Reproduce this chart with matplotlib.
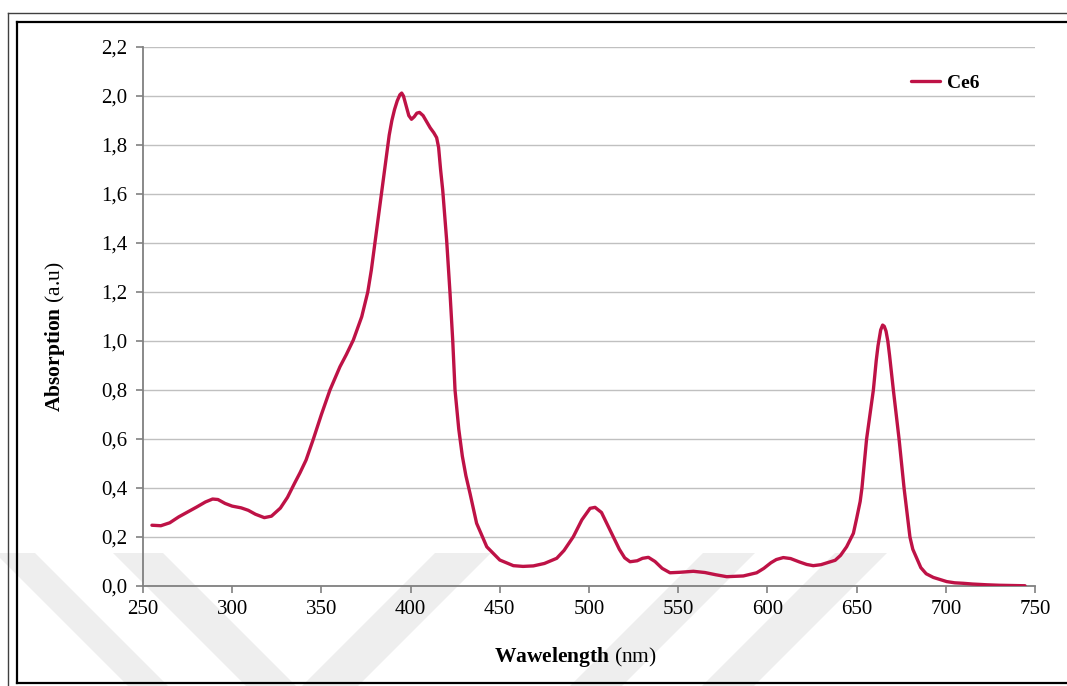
import matplotlib
matplotlib.use('AGG')
import matplotlib.pyplot as plt
from matplotlib.lines import Line2D
from matplotlib.patches import Polygon

# absorption spectrum of Ce6
wavelength = [255, 260, 265, 270, 275, 280, 285, 289, 292, 296, 300, 305, 309, 313, 318,
              322, 327, 331, 335, 338, 341.4, 345.5, 350, 354.8, 360.4, 364, 367.9, 372.6,
              376, 378, 380, 382, 384, 386, 388, 389.5, 391, 392.5, 394, 395, 396, 397.5,
              399, 400.5, 402, 403.5, 405, 407, 409, 411, 413, 414.6, 415.7, 416.8, 418,
              420.2, 422.1, 423.6, 424.9, 427, 429, 431, 433.3, 437, 442.7, 450, 457.6, 463,
              468.8, 475, 481.9, 486, 491.2, 496, 500.6, 503.4, 507, 510, 513.6, 517, 520,
              523, 527, 530, 533.3, 537, 541, 545.4, 551, 558.5, 565, 571, 577.2, 586.5,
              594, 598, 602, 605, 608.9, 613, 618, 622, 625.7, 630, 634, 638, 641, 644.4,
              648.2, 650, 652, 653, 655.6, 657.5, 659.4, 661, 662, 663.5, 664.6, 665.5,
              666.5, 667.5, 668.5, 670.6, 673.8, 676.6, 679.9, 681.5, 683.7, 686, 689, 693,
              700.5, 705, 709.8, 715, 722.8, 730, 744.4]
absorption = [0.248, 0.246, 0.258, 0.282, 0.302, 0.322, 0.343, 0.355, 0.353, 0.337, 0.326,
              0.319, 0.309, 0.293, 0.279, 0.285, 0.318, 0.362, 0.420, 0.462, 0.514, 0.600,
              0.700, 0.800, 0.895, 0.945, 1.004, 1.099, 1.200, 1.290, 1.400, 1.510, 1.620,
              1.730, 1.840, 1.900, 1.945, 1.980, 2.005, 2.012, 2.000, 1.960, 1.920, 1.905,
              1.915, 1.930, 1.933, 1.920, 1.895, 1.870, 1.850, 1.830, 1.790, 1.700, 1.616,
              1.412, 1.195, 1.004, 0.800, 0.640, 0.530, 0.450, 0.378, 0.256, 0.160, 0.106,
              0.083, 0.080, 0.082, 0.092, 0.113, 0.145, 0.201, 0.270, 0.317, 0.321, 0.300,
              0.255, 0.201, 0.150, 0.115, 0.099, 0.103, 0.113, 0.117, 0.100, 0.072, 0.054,
              0.056, 0.060, 0.055, 0.046, 0.038, 0.041, 0.054, 0.072, 0.095, 0.108, 0.116,
              0.112, 0.098, 0.088, 0.083, 0.087, 0.096, 0.105, 0.125, 0.160, 0.215, 0.275,
              0.345, 0.400, 0.600, 0.700, 0.800, 0.920, 0.980, 1.045, 1.065, 1.060, 1.040,
              1.000, 0.940, 0.800, 0.600, 0.400, 0.200, 0.150, 0.113, 0.075, 0.050, 0.035,
              0.018, 0.013, 0.011, 0.008, 0.005, 0.003, 0.001]

x_ticks = [250, 300, 350, 400, 450, 500, 550, 600, 650, 700, 750]
y_ticks = [0.0, 0.2, 0.4, 0.6, 0.8, 1.0, 1.2, 1.4, 1.6, 1.8, 2.0, 2.2]

plt.rcParams['font.family'] = ['Liberation Serif', 'DejaVu Serif']
plt.rcParams['mathtext.fontset'] = 'custom'
plt.rcParams['mathtext.rm'] = 'Liberation Serif'
plt.rcParams['mathtext.bf'] = 'Liberation Serif:bold'

W, H = 1067, 686
fig = plt.figure(figsize=(W / 100, H / 100), dpi=100)
ax = fig.add_axes([143 / W, 1 - 586 / H, 892 / W, 539 / H])
ax.patch.set_visible(False)

# faint watermark stripes at the bottom of the page
def stripe(x0, w, lean):
    top, bottom = 553, 690
    dx = (bottom - top) * lean
    pts = [(x0, top), (x0 + w, top), (x0 + w + dx, bottom), (x0 + dx, bottom)]
    return Polygon([(px / W, 1 - py / H) for px, py in pts], closed=True,
                   transform=fig.transFigure, facecolor='#eeeeee', edgecolor='none',
                   zorder=-1)

for x0, w, lean in [(-5, 40, 1), (113, 50, 1), (435, 56, -1), (703, 52, -1), (835, 52, -1)]:
    fig.add_artist(stripe(x0, w, lean))

ax.plot(wavelength, absorption, color='#BE1246', linewidth=2.4, label='Ce6',
        solid_joinstyle='round', solid_capstyle='round', zorder=3)

ax.set_xlim(250, 750)
ax.set_ylim(0, 2.2)
ax.set_xticks(x_ticks)
ax.set_yticks(y_ticks)
ax.set_xticklabels([str(t) for t in x_ticks])
ax.set_yticklabels([f'{t:.1f}'.replace('.', ',') for t in y_ticks])
ax.tick_params(axis='both', labelsize=15, colors='#808080', labelcolor='black',
               length=5, width=1.2, direction='out')
ax.tick_params(axis='x', pad=5)
ax.tick_params(axis='y', pad=6)

ax.grid(axis='y', color='#c0c0c0', linewidth=1.0)
ax.set_axisbelow(True)
for side in ['top', 'right']:
    ax.spines[side].set_visible(False)
for side in ['left', 'bottom']:
    ax.spines[side].set_color('#808080')
    ax.spines[side].set_linewidth(1.3)

ax.set_xlabel(r'$\mathbf{Wawelength}$ (nm)', fontsize=15.5)
ax.set_ylabel(r'$\mathbf{Absorption}$ (a.u)', fontsize=15.5)
ax.xaxis.set_label_coords((575 - 143) / 892, -(657 - 586) / 539)
ax.yaxis.set_label_coords(-(143 - 55) / 892, (586 - 337) / 539)
ax.xaxis.label.set_va('center')
ax.yaxis.label.set_va('center')

ax.legend(loc='center left', bbox_to_anchor=((911 - 143) / 892, (586 - 83) / 539),
          frameon=False, borderpad=0, borderaxespad=0, handlelength=1.5,
          handletextpad=0.35, prop={'weight': 'bold', 'size': 14})

# double frame round the figure
fig.add_artist(Line2D([8 / W, 8 / W], [1 - 13 / H, 0], color='#404040', lw=1.0))
fig.add_artist(Line2D([8 / W, 1], [1 - 13 / H, 1 - 13 / H], color='#404040', lw=1.0))
fig.add_artist(Line2D([17 / W, 17 / W], [1 - 22 / H, 1 - 683 / H], color='black', lw=1.6))
fig.add_artist(Line2D([17 / W, 1], [1 - 22 / H, 1 - 22 / H], color='black', lw=1.6))
fig.add_artist(Line2D([17 / W, 1], [1 - 683 / H, 1 - 683 / H], color='black', lw=1.6))

fig.savefig('out.png', dpi=100)
